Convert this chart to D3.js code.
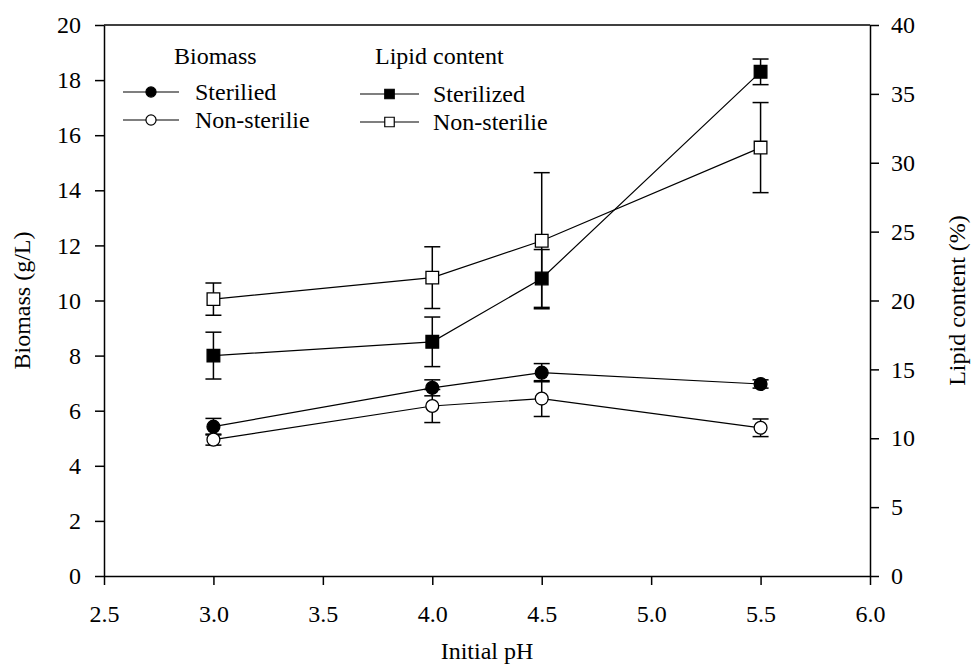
<!DOCTYPE html>
<html>
<head>
<meta charset="utf-8">
<script src="https://cdn.jsdelivr.net/npm/d3@7"></script>
<style>
body { margin: 0; background: #fff; }
text { font-family: "Liberation Serif", "Times New Roman", serif; fill: #000; }
</style>
</head>
<body>
<script>
//biomass and lipid content vs initial pH, two y axes

(function(){

//chart values
var phValues = [3.0, 4.0, 4.5, 5.5];
var biomassSterilized = [5.42, 6.83, 7.38, 6.97];
var biomassSterilizedErr = [0.30, 0.29, 0.33, 0.15];
var biomassNonSterile = [4.95, 6.17, 6.44, 5.38];
var biomassNonSterileErr = [0.20, 0.60, 0.65, 0.32];
var lipidSterilized = [16.0, 17.0, 21.6, 36.6];
var lipidSterilizedErr = [1.7, 1.8, 2.1, 0.93];
var lipidNonSterile = [20.1, 21.66, 24.34, 31.1];
var lipidNonSterileErr = [1.17, 2.24, 4.94, 3.27];

var xTicks = [2.5, 3.0, 3.5, 4.0, 4.5, 5.0, 5.5, 6.0];
var leftTicks = [0, 2, 4, 6, 8, 10, 12, 14, 16, 18, 20];
var rightTicks = [0, 5, 10, 15, 20, 25, 30, 35, 40];

var width = 976,
    height = 665,
    left = 104,
    right = 870,
    top = 25,
    bottom = 576;

var svg = d3.select("body")
    .append("svg")
    .attr("width", width)
    .attr("height", height);

var x = d3.scaleLinear().domain([2.5, 6.0]).range([left, right]);
var yLeft = d3.scaleLinear().domain([0, 20]).range([bottom, top]);
var yRight = d3.scaleLinear().domain([0, 40]).range([bottom, top]);

//axes
function styleAxis(g){
    g.selectAll("path").attr("stroke", "#000").attr("stroke-width", 1.5);
    g.selectAll("line").attr("stroke", "#000").attr("stroke-width", 1.5);
    g.selectAll("text").style("font-size", "24px").attr("fill", "#000");
};

svg.append("g")
    .attr("transform", "translate(0," + bottom + ")")
    .call(d3.axisBottom(x).tickValues(xTicks).tickSize(9).tickSizeOuter(0).tickPadding(20)
        .tickFormat(d3.format(".1f")))
    .call(styleAxis)
    .attr("font-family", null);

svg.append("g")
    .attr("transform", "translate(" + left + ",0)")
    .call(d3.axisLeft(yLeft).tickValues(leftTicks).tickSize(9).tickSizeOuter(0).tickPadding(14))
    .call(styleAxis)
    .attr("font-family", null);

svg.append("g")
    .attr("transform", "translate(" + right + ",0)")
    .call(d3.axisRight(yRight).tickValues(rightTicks).tickSize(9).tickSizeOuter(0).tickPadding(12))
    .call(styleAxis)
    .attr("font-family", null);

//top frame line
svg.append("line")
    .attr("x1", left).attr("x2", right)
    .attr("y1", top).attr("y2", top)
    .attr("stroke", "#000")
    .attr("stroke-width", 1.5);

//axis titles
svg.append("text")
    .attr("transform", "translate(30," + ((top + bottom) / 2) + ") rotate(-90)")
    .attr("text-anchor", "middle")
    .style("font-size", "24px")
    .text("Biomass (g/L)");

svg.append("text")
    .attr("transform", "translate(965," + ((top + bottom) / 2) + ") rotate(-90)")
    .attr("text-anchor", "middle")
    .style("font-size", "24px")
    .text("Lipid content (%)");

svg.append("text")
    .attr("x", (left + right) / 2)
    .attr("y", 659)
    .attr("text-anchor", "middle")
    .style("font-size", "24px")
    .text("Initial pH");

//series list, built from the arrays above
var series = [
    {vals: lipidSterilized, err: lipidSterilizedErr, y: yRight, shape: d3.symbolSquare, fill: "#000"},
    {vals: lipidNonSterile, err: lipidNonSterileErr, y: yRight, shape: d3.symbolSquare, fill: "#fff"},
    {vals: biomassSterilized, err: biomassSterilizedErr, y: yLeft, shape: d3.symbolCircle, fill: "#000"},
    {vals: biomassNonSterile, err: biomassNonSterileErr, y: yLeft, shape: d3.symbolCircle, fill: "#fff"}
];

//error bars first
series.forEach(function(s){
    var g = svg.append("g");
    phValues.forEach(function(ph, i){
        var cx = x(ph),
            yt = s.y(s.vals[i] + s.err[i]),
            yb = s.y(s.vals[i] - s.err[i]);
        g.append("line").attr("x1", cx).attr("x2", cx).attr("y1", yt).attr("y2", yb)
            .attr("stroke", "#000").attr("stroke-width", 1.5);
        [yt, yb].forEach(function(yy){
            g.append("line").attr("x1", cx - 8).attr("x2", cx + 8).attr("y1", yy).attr("y2", yy)
                .attr("stroke", "#000").attr("stroke-width", 1.5);
        });
    });
});

//connecting lines
series.forEach(function(s){
    var line = d3.line()
        .x(function(d, i){ return x(phValues[i]); })
        .y(function(d){ return s.y(d); });
    svg.append("path")
        .datum(s.vals)
        .attr("d", line)
        .attr("fill", "none")
        .attr("stroke", "#000")
        .attr("stroke-width", 1.2);
});

//markers
series.forEach(function(s){
    var sym = d3.symbol().type(s.shape).size(s.shape === d3.symbolSquare ? 160 : 130);
    svg.selectAll(null)
        .data(s.vals)
        .enter()
        .append("path")
        .attr("d", sym)
        .attr("transform", function(d, i){
            return "translate(" + x(phValues[i]) + "," + s.y(d) + ")";
        })
        .attr("fill", s.fill)
        .attr("stroke", "#000")
        .attr("stroke-width", 1.3);
});

//legend
var legendGroups = [
    {title: "Biomass", tx: 174, lx1: 123, lx2: 179, labels: ["Sterilied", "Non-sterilie"], shape: d3.symbolCircle},
    {title: "Lipid content", tx: 375, lx1: 360, lx2: 419, labels: ["Sterilized", "Non-sterilie"], shape: d3.symbolSquare}
];
var legendFills = ["#000", "#fff"];

legendGroups.forEach(function(lg, j){
    svg.append("text")
        .attr("x", lg.tx)
        .attr("y", 64)
        .style("font-size", "24px")
        .text(lg.title);
    lg.labels.forEach(function(lab, k){
        var ly = (j === 0 ? 92 : 94) + k * 28;
        svg.append("line")
            .attr("x1", lg.lx1).attr("x2", lg.lx2)
            .attr("y1", ly).attr("y2", ly)
            .attr("stroke", "#000").attr("stroke-width", 1.2);
        svg.append("path")
            .attr("d", d3.symbol().type(lg.shape).size(lg.shape === d3.symbolSquare ? 90 : 80))
            .attr("transform", "translate(" + ((lg.lx1 + lg.lx2) / 2) + "," + ly + ")")
            .attr("fill", legendFills[k])
            .attr("stroke", "#000")
            .attr("stroke-width", 1.2);
        svg.append("text")
            .attr("x", j === 0 ? 195 : 433)
            .attr("y", ly + 8)
            .style("font-size", "24px")
            .text(lab);
    });
});

})();
</script>
</body>
</html>
